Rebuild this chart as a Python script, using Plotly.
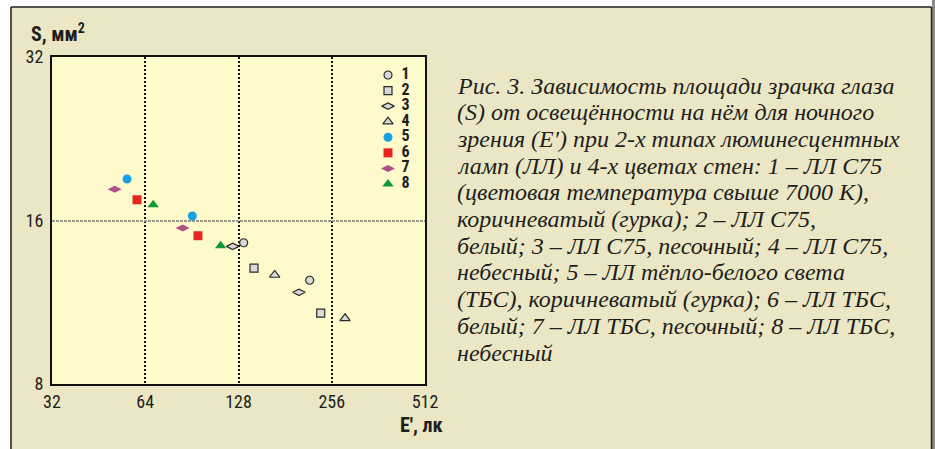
import plotly.graph_objects as go

# Pupil area S (mm^2) vs. illuminance E' (lx), two points per series
series_labels = ["1", "2", "3", "4", "5", "6", "7", "8"]
e_1 = [133.0, 217.3]
s_1 = [14.56, 12.42]
e_2 = [143.6, 235.8]
s_2 = [13.07, 10.80]
e_3 = [122.6, 200.7]
s_3 = [14.34, 11.80]
e_4 = [167.5, 282.6]
s_4 = [12.70, 10.57]
e_5 = [55.9, 90.8]
s_5 = [19.08, 16.31]
e_6 = [60.2, 94.7]
s_6 = [17.47, 15.00]
e_7 = [51.0, 84.5]
s_7 = [18.26, 15.50]
e_8 = [67.9, 112.1]
s_8 = [17.11, 14.38]

x_ticks = [32, 64, 128, 256, 512]
y_ticks = [8, 16, 32]

caption_lines = [
    "Рис. 3. Зависимость площади зрачка глаза",
    "(S) от освещённости на нём для ночного",
    "зрения (E′) при 2-х типах люминесцентных",
    "ламп (ЛЛ) и 4-х цветах стен: 1 – ЛЛ С75",
    "(цветовая температура свыше 7000 К),",
    "коричневатый (гурка); 2 – ЛЛ С75,",
    "белый; 3 – ЛЛ С75, песочный; 4 – ЛЛ С75,",
    "небесный; 5 – ЛЛ тёпло-белого света",
    "(ТБС), коричневатый (гурка); 6 – ЛЛ ТБС,",
    "белый; 7 – ЛЛ ТБС, песочный; 8 – ЛЛ ТБС,",
    "небесный",
]

W, H = 935, 449
L, R, T, B = 52, 425, 57, 384  # plot area in pixels

def px(x):
    return (x - L) / (R - L)

def py(y):
    return (B - y) / (B - T)

NARROW = "Roboto Condensed, DejaVu Sans Condensed, sans-serif"
SERIF = "Liberation Serif, Times New Roman, serif"
INK = "#1e1e1e"

open_fill = "#d9d9d9"
outline = dict(color="#2a2a2a", width=1.2)
styles = [
    dict(symbol="circle", size=8, color=open_fill, line=outline),
    dict(symbol="square", size=8, color=open_fill, line=outline),
    dict(symbol="diamond-wide", size=9, color=open_fill, line=outline),
    dict(symbol="triangle-up", size=9, color=open_fill, line=outline),
    dict(symbol="circle", size=9, color="#1a9fe0", line=dict(width=0)),
    dict(symbol="square", size=9, color="#e3261e", line=dict(width=0)),
    dict(symbol="diamond-wide", size=10, color="#b0508a", line=dict(width=0)),
    dict(symbol="triangle-up", size=10, color="#10983a", line=dict(width=0)),
]

xs = [e_1, e_2, e_3, e_4, e_5, e_6, e_7, e_8]
ys = [s_1, s_2, s_3, s_4, s_5, s_6, s_7, s_8]

fig = go.Figure()
for lab, x, y, st in zip(series_labels, xs, ys, styles):
    fig.add_trace(go.Scatter(x=x, y=y, mode="markers", name=lab,
                             marker=st, showlegend=False,
                             xaxis="x", yaxis="y"))

# key: one marker per series on a small categorical axis, its number beside it
for lab, st in zip(series_labels, styles):
    fig.add_trace(go.Scatter(x=[0], y=[lab], mode="markers", marker=st,
                             showlegend=False, cliponaxis=False,
                             hoverinfo="skip", xaxis="x2", yaxis="y2"))
fig.add_trace(go.Scatter(x=[0.45] * len(series_labels), y=series_labels,
                         mode="text", text=series_labels,
                         texttemplate="<b>%{text}</b>",
                         textposition="middle right",
                         textfont=dict(family=NARROW, size=16, color=INK),
                         showlegend=False, cliponaxis=False, hoverinfo="skip",
                         xaxis="x2", yaxis="y2"))

fig.update_layout(
    width=W, height=H,
    margin=dict(l=L, r=W - R, t=T, b=H - B),
    paper_bgcolor="#ebe7c4",
    plot_bgcolor="#fffacb",
    xaxis=dict(type="log", range=[1.50515, 2.70927], tickvals=x_ticks,
               ticktext=[str(v) for v in x_ticks], ticks="",
               tickfont=dict(family=NARROW, size=18, color=INK),
               showgrid=True, gridcolor="#111", griddash="2px,2px", gridwidth=1.5,
               showline=True, linecolor="#111", linewidth=2, mirror=True,
               zeroline=False, ticklabelstandoff=0),
    yaxis=dict(type="log", range=[0.90309, 1.50515], tickvals=y_ticks,
               ticktext=[str(v) for v in y_ticks], ticks="",
               tickfont=dict(family=NARROW, size=18, color=INK),
               showgrid=True, gridcolor="#9c9787", griddash="3px,1px", gridwidth=2,
               showline=True, linecolor="#111", linewidth=2, mirror=True,
               zeroline=False, ticklabelstandoff=3),
    xaxis2=dict(domain=[px(388), px(418)], range=[0, 1], visible=False,
                anchor="y2", fixedrange=True),
    yaxis2=dict(domain=[py(184), py(75)], type="category",
                categoryorder="array", categoryarray=series_labels,
                range=[7, 0], visible=False, anchor="x2", fixedrange=True),
    showlegend=False,
)

# outer frame of the figure panel
shapes = [
    dict(type="rect", xref="paper", yref="paper", x0=px(0), x1=px(10.5),
         y0=py(H + 5), y1=py(-5), fillcolor="white", line=dict(width=0)),
    dict(type="rect", xref="paper", yref="paper", x0=px(0), x1=px(W + 5),
         y0=py(6.5), y1=py(-5), fillcolor="white", line=dict(width=0)),
    dict(type="rect", xref="paper", yref="paper", x0=px(932), x1=px(W + 5),
         y0=py(H + 5), y1=py(-5), fillcolor="#8a8a8a", line=dict(width=0)),
    dict(type="line", xref="paper", yref="paper", x0=px(11), x1=px(11),
         y0=py(7), y1=py(H + 5), line=dict(color="#222", width=1.5)),
    dict(type="line", xref="paper", yref="paper", x0=px(11), x1=px(931.5),
         y0=py(7), y1=py(7), line=dict(color="#222", width=1.5)),
    dict(type="line", xref="paper", yref="paper", x0=px(931.5), x1=px(931.5),
         y0=py(7), y1=py(H + 5), line=dict(color="#222", width=1.5)),
]
fig.update_layout(shapes=shapes)

fig.add_annotation(xref="paper", yref="paper", x=px(29), y=py(33),
                   xanchor="left", yanchor="middle", showarrow=False,
                   text="<b>S, мм<sup>2</sup></b>",
                   font=dict(family=NARROW, size=20, color=INK))
fig.add_annotation(xref="paper", yref="paper", x=px(445), y=py(425),
                   xanchor="right", yanchor="middle", showarrow=False,
                   text="<b>E′, лк</b>",
                   font=dict(family=NARROW, size=20, color=INK))

# figure caption, one annotation per line for a fixed leading
for i, line in enumerate(caption_lines):
    fig.add_annotation(xref="paper", yref="paper", x=px(455), y=py(85.8 + 26.67 * i),
                       xanchor="left", yanchor="middle", align="left",
                       showarrow=False, text="<i>" + line + "</i>",
                       font=dict(family=SERIF, size=24, color=INK))

fig.write_html("out.html")
